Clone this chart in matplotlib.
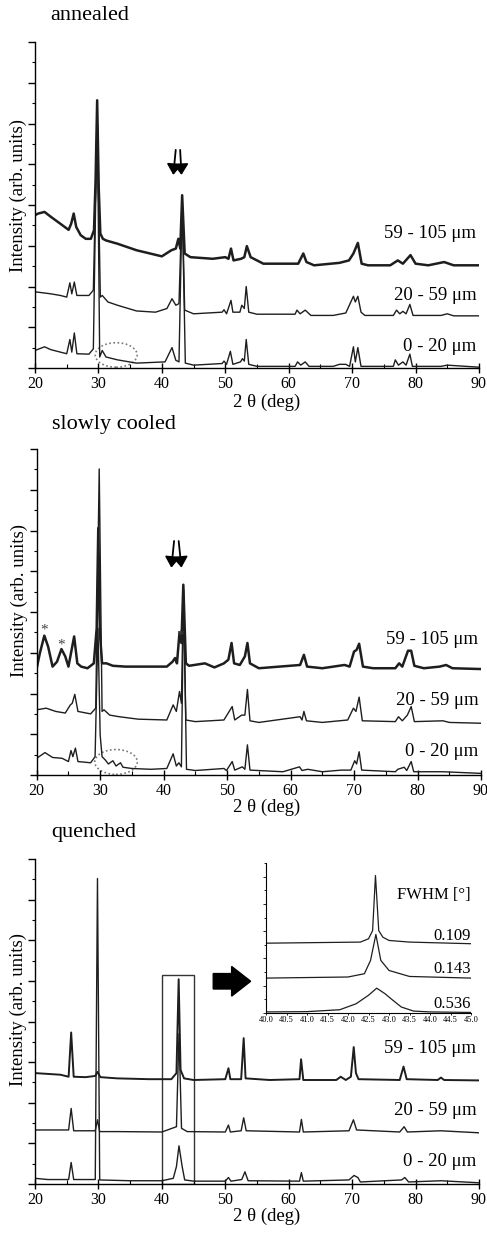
import matplotlib
matplotlib.use("Agg")
import matplotlib.pyplot as plt
from matplotlib.patches import Ellipse, Rectangle, FancyArrow
from matplotlib.ticker import MultipleLocator, NullFormatter, FormatStrFormatter

plt.rcParams['font.family'] = ['Liberation Serif', 'DejaVu Serif']

labels = ["59 - 105 \u03bcm", "20 - 59 \u03bcm", "0 - 20 \u03bcm"]
titles = ["annealed", "slowly cooled", "quenched"]

# ---- annealed ----
ann_top_x = [20, 20.5, 21.5, 22.5, 24, 25.3, 25.7, 26.1, 26.5, 27.2, 28, 28.8, 29.3, 29.55, 29.8, 30.05, 30.3, 30.7,
             31.2, 33, 36, 40, 41.5, 42.2, 42.6, 42.9, 43.2, 43.6, 44.5, 48, 50, 50.5, 50.9, 51.3, 52.5, 53.0, 53.4,
             54, 56, 61.5, 62.3, 62.8, 64, 68, 69.5, 70.2, 70.9, 71.5, 72.5, 76, 77.2, 78, 79.2, 80, 82, 84.5, 86, 90]
ann_top_y = [3.75, 3.79, 3.83, 3.71, 3.54, 3.39, 3.54, 3.79, 3.46, 3.26, 3.17, 3.17, 3.38, 4.60, 6.57, 4.40, 3.30,
             3.17, 3.13, 3.05, 2.89, 2.74, 2.89, 2.93, 3.17, 2.93, 4.24, 2.81, 2.72, 2.68, 2.72, 2.68, 2.93, 2.64, 2.68,
             2.72, 2.99, 2.72, 2.56, 2.56, 2.81, 2.60, 2.52, 2.58, 2.64, 2.81, 3.07, 2.56, 2.52, 2.52, 2.64, 2.56, 2.77,
             2.56, 2.52, 2.60, 2.52, 2.52]
ann_mid_x = [20, 22.5, 24, 25.0, 25.5, 25.8, 26.2, 26.6, 28.5, 29.2, 29.8, 30.3, 30.6, 31.5, 33, 36, 39, 40.8, 41.6,
             42.2, 42.7, 43.2, 43.6, 45, 49.5, 49.8, 50.2, 50.9, 51.2, 52.3, 52.6, 53.0, 53.3, 53.7, 55, 61, 61.3, 61.8,
             62.6, 63.5, 67, 69, 70.2, 70.5, 70.9, 71.4, 72, 76.5, 77, 77.5, 78, 78.5, 79.1, 79.6, 84, 85, 86, 90]
ann_mid_y = [1.87, 1.82, 1.78, 1.74, 2.09, 1.82, 2.11, 1.78, 1.78, 1.91, 6.16, 1.74, 1.78, 1.62, 1.54, 1.40, 1.37, 1.46,
             1.70, 1.54, 1.58, 4.20, 1.42, 1.33, 1.37, 1.43, 1.33, 1.66, 1.37, 1.37, 1.54, 1.46, 2.00, 1.37, 1.32, 1.32,
             1.42, 1.33, 1.42, 1.29, 1.29, 1.35, 1.76, 1.62, 1.76, 1.37, 1.29, 1.29, 1.42, 1.33, 1.39, 1.33, 1.56, 1.29,
             1.29, 1.33, 1.28, 1.28]
ann_bot_x = [20, 21.5, 22.5, 24, 25.0, 25.5, 25.8, 26.2, 26.6, 28.5, 29.2, 29.8, 30.2, 30.6, 31.2, 33, 36, 40.5, 41.6,
             42.2, 42.7, 43.2, 43.7, 45, 49.5, 49.8, 50.2, 50.8, 51.2, 52.4, 52.7, 53.0, 53.3, 53.7, 55, 61, 61.4, 61.9,
             62.6, 63.2, 67, 68, 69, 69.6, 70.2, 70.5, 70.9, 71.4, 76.5, 76.8, 77.3, 78, 78.5, 79.1, 79.5, 84, 85, 90]
ann_bot_y = [0.43, 0.52, 0.45, 0.39, 0.35, 0.70, 0.39, 0.86, 0.35, 0.34, 0.47, 6.49, 0.27, 0.43, 0.27, 0.20, 0.12, 0.15,
             0.50, 0.19, 0.15, 4.11, 0.12, 0.07, 0.11, 0.17, 0.09, 0.41, 0.09, 0.15, 0.23, 0.17, 0.70, 0.09, 0.04, 0.04,
             0.15, 0.07, 0.15, 0.04, 0.04, 0.09, 0.09, 0.04, 0.52, 0.15, 0.50, 0.04, 0.04, 0.20, 0.07, 0.15, 0.07, 0.34,
             0.04, 0.04, 0.07, 0.02]

# ---- slowly cooled ----
slo_top_x = [20, 20.5, 21.2, 21.8, 22.5, 23.2, 23.9, 24.5, 25.0, 25.5, 25.9, 26.4, 27, 28, 29, 29.45, 29.7, 29.95,
             30.3, 31, 32, 34, 38, 40.5, 41.4, 41.8, 42.1, 42.5, 42.8, 43.1, 43.5, 44, 46.5, 48, 49.5, 50.2, 50.7, 51.1,
             52, 52.8, 53.2, 53.6, 55, 61.5, 62.1, 62.6, 65, 68.5, 69.3, 70, 70.4, 70.8, 71.4, 73, 76.5, 77.1, 77.6,
             78.5, 79.0, 79.5, 81, 83.5, 84.5, 85.5, 90]
slo_top_y = [2.62, 2.99, 3.42, 3.15, 2.66, 2.78, 3.09, 2.91, 2.66, 3.07, 3.40, 2.74, 2.66, 2.62, 2.74, 3.60, 6.06, 3.50,
             2.74, 2.74, 2.68, 2.66, 2.66, 2.66, 2.78, 2.87, 2.74, 3.50, 3.24, 4.67, 2.74, 2.68, 2.74, 2.64, 2.74, 2.83,
             3.24, 2.74, 2.70, 2.91, 3.24, 2.74, 2.62, 2.70, 2.95, 2.66, 2.62, 2.70, 2.66, 3.03, 3.07, 3.22, 2.66, 2.62,
             2.62, 2.74, 2.66, 3.05, 3.05, 2.68, 2.62, 2.66, 2.70, 2.62, 2.60]
slo_mid_x = [20, 21.5, 23, 24.5, 25.3, 25.6, 26.0, 26.5, 28.5, 29.3, 29.85, 30.3, 30.6, 31.5, 33, 36, 40.5, 41.5, 42,
             42.5, 42.8, 43.1, 43.5, 45, 49.5, 50.8, 51.2, 52.3, 52.8, 53.2, 53.6, 55, 61.5, 61.8, 62.1, 62.5, 65, 69,
             69.9, 70.3, 70.8, 71.3, 76.5, 77, 77.6, 78.4, 79, 79.5, 84, 85, 90]
slo_mid_y = [1.60, 1.64, 1.56, 1.52, 1.72, 1.76, 1.98, 1.56, 1.50, 1.64, 7.51, 1.56, 1.60, 1.47, 1.43, 1.37, 1.35, 1.72,
             1.56, 2.05, 1.76, 4.42, 1.35, 1.31, 1.35, 1.68, 1.35, 1.47, 1.47, 2.10, 1.33, 1.29, 1.43, 1.35, 1.56, 1.33,
             1.29, 1.35, 1.64, 1.56, 1.91, 1.33, 1.31, 1.43, 1.33, 1.47, 1.68, 1.31, 1.33, 1.29, 1.27]
slo_bot_x = [20, 21.3, 22.5, 24, 25, 25.4, 25.7, 26.1, 26.5, 28.5, 29.2, 29.65, 30.0, 30.3, 30.8, 31.3, 32.0, 32.5, 33.2,
             33.6, 35, 38, 40.5, 41.5, 42, 42.4, 42.8, 43.15, 43.6, 45, 49.5, 49.9, 50.8, 51.2, 52.4, 52.8, 53.2, 53.6,
             58.8, 61.4, 61.8, 62.7, 65, 68, 69.5, 70.1, 70.4, 70.8, 71.2, 76.5, 76.9, 77.9, 78.3, 79.0, 79.4, 84, 90]
slo_bot_y = [0.41, 0.55, 0.43, 0.41, 0.33, 0.60, 0.45, 0.66, 0.33, 0.30, 0.45, 3.60, 0.98, 0.45, 0.37, 0.27, 0.35, 0.22,
             0.30, 0.19, 0.16, 0.14, 0.16, 0.52, 0.22, 0.30, 0.20, 4.55, 0.14, 0.11, 0.16, 0.11, 0.33, 0.12, 0.20, 0.14,
             0.74, 0.12, 0.08, 0.20, 0.11, 0.14, 0.08, 0.12, 0.12, 0.35, 0.27, 0.57, 0.12, 0.08, 0.14, 0.19, 0.11, 0.33,
             0.08, 0.08, 0.04]

# ---- quenched ----
que_top_x = [20, 22, 24, 25.3, 25.7, 26.1, 28, 29.5, 29.85, 30.3, 33, 38, 41.5, 42.3, 42.65, 42.95, 43.5, 45, 50, 50.5,
             50.8, 52.5, 52.9, 53.2, 57, 61.7, 61.95, 62.3, 67.5, 68.2, 69, 69.8, 70.25, 70.6, 71, 77.5, 78.1, 78.6,
             83.5, 84, 84.5, 90]
que_top_y = [2.73, 2.71, 2.69, 2.64, 3.73, 2.64, 2.63, 2.66, 2.76, 2.63, 2.60, 2.58, 2.58, 2.73, 5.04, 2.81, 2.60, 2.56,
             2.58, 2.85, 2.58, 2.58, 3.59, 2.60, 2.56, 2.58, 3.07, 2.56, 2.56, 2.64, 2.56, 2.64, 3.37, 2.73, 2.58, 2.56,
             2.89, 2.58, 2.56, 2.62, 2.56, 2.55]
que_mid_x = [20, 25.3, 25.7, 26.1, 29.5, 29.85, 30.2, 33, 40, 42.3, 42.7, 43.1, 44, 50, 50.5, 50.8, 52.5, 52.9, 53.3,
             61.7, 62.0, 62.3, 69.5, 70.2, 70.7, 77.5, 78.2, 78.7, 84, 90]
que_mid_y = [1.33, 1.33, 1.86, 1.31, 1.31, 1.58, 1.29, 1.29, 1.28, 1.41, 3.70, 1.37, 1.29, 1.28, 1.45, 1.28, 1.31, 1.63,
             1.31, 1.28, 1.59, 1.28, 1.31, 1.58, 1.33, 1.28, 1.41, 1.28, 1.31, 1.26]
que_bot_x = [20, 22, 25.3, 25.7, 26.1, 29.5, 29.85, 30.2, 35, 40, 41.8, 42.3, 42.7, 43.2, 43.6, 45, 50, 50.5, 50.9,
             52.6, 53.1, 53.6, 61.7, 62.0, 62.3, 69.5, 70.3, 70.9, 71.3, 77.8, 78.3, 78.9, 84, 90]
que_bot_y = [0.14, 0.11, 0.11, 0.53, 0.11, 0.11, 7.52, 0.10, 0.08, 0.08, 0.14, 0.43, 0.94, 0.43, 0.10, 0.07, 0.07, 0.16,
             0.07, 0.11, 0.30, 0.08, 0.07, 0.28, 0.07, 0.10, 0.21, 0.16, 0.05, 0.10, 0.16, 0.05, 0.08, 0.03]

# ---- quenched inset (40-45 deg) ----
fwhm_labels = ["0.109", "0.143", "0.536"]
ins_top_x = [40, 42.3, 42.5, 42.6, 42.67, 42.75, 42.85, 43.0, 43.5, 45]
ins_top_y = [2.56, 2.60, 2.72, 3.02, 5.04, 3.02, 2.78, 2.66, 2.60, 2.54]
ins_mid_x = [40, 42.0, 42.4, 42.55, 42.68, 42.8, 43.0, 43.5, 45]
ins_mid_y = [1.28, 1.32, 1.44, 1.93, 2.88, 1.93, 1.56, 1.34, 1.28]
ins_bot_x = [40, 41.0, 41.8, 42.2, 42.5, 42.7, 42.9, 43.1, 43.3, 43.6, 44.0, 45]
ins_bot_y = [0.04, 0.05, 0.12, 0.34, 0.65, 0.91, 0.71, 0.46, 0.22, 0.07, 0.04, 0.02]

LC = '#1e1e1e'
W, H = 487, 1235

fig = plt.figure(figsize=(W / 100, H / 100), dpi=100)


def px_axes(left, top, right, bottom):
    return fig.add_axes([left / W, 1 - bottom / H, (right - left) / W, (bottom - top) / H])


def style(ax, label_y, xlab_x, xlab_y, ylab_y):
    ax.set_xlim(20, 90)
    ax.set_ylim(0, 8)
    for s in ['top', 'right']:
        ax.spines[s].set_visible(False)
    for s in ['left', 'bottom']:
        ax.spines[s].set_linewidth(1.0)
    ax.xaxis.set_major_locator(MultipleLocator(10))
    ax.xaxis.set_minor_locator(MultipleLocator(5))
    ax.yaxis.set_major_locator(MultipleLocator(1))
    ax.yaxis.set_minor_locator(MultipleLocator(0.5))
    ax.yaxis.set_major_formatter(NullFormatter())
    ax.tick_params(axis='x', which='major', direction='inout', length=7, width=1, labelsize=11.5, pad=2)
    ax.tick_params(axis='x', which='minor', direction='in', length=3, width=0.8)
    ax.tick_params(axis='y', which='major', direction='out', length=5, width=1)
    ax.tick_params(axis='y', which='minor', direction='out', length=2.5, width=0.8)
    ax.set_xlabel("2 \u03b8 (deg)", fontsize=13.5, va='center')
    ax.xaxis.set_label_coords(xlab_x, xlab_y)
    ax.set_ylabel("Intensity (arb. units)", fontsize=13.5, va='center')
    ax.yaxis.set_label_coords(-0.038, ylab_y)
    for lab, y in zip(labels, label_y):
        ax.text(89.6, y, lab, ha='right', va='center', fontsize=13.5)


ARW = dict(arrowstyle='-|>,head_length=0.65,head_width=0.45', color='k', lw=1.3, mutation_scale=10)

# annealed
ax1 = px_axes(35, 42, 479, 368)
ax1.plot(ann_bot_x, ann_bot_y, color=LC, lw=1.0)
ax1.plot(ann_mid_x, ann_mid_y, color=LC, lw=1.0)
ax1.plot(ann_top_x, ann_top_y, color=LC, lw=1.8)
style(ax1, [3.30, 1.78, 0.52], (267 - 35) / 444, -34 / 326, 0.53)
ax1.add_patch(Ellipse((32.8, 0.32), 6.6, 0.6, fill=False, ls=(0, (1, 1.5)), ec='#777777', lw=1.2))
ax1.annotate('', xy=(41.76, 4.67), xytext=(42.23, 5.42), arrowprops=ARW)
ax1.annotate('', xy=(43.12, 4.67), xytext=(42.86, 5.42), arrowprops=ARW)
fig.text(50 / W, 1 - 15 / H, titles[0], fontsize=16, va='center', ha='left')

# slowly cooled
ax2 = px_axes(36.7, 449, 481, 775)
ax2.plot(slo_bot_x, slo_bot_y, color=LC, lw=1.0)
ax2.plot(slo_mid_x, slo_mid_y, color=LC, lw=1.0)
ax2.plot(slo_top_x, slo_top_y, color=LC, lw=1.8)
style(ax2, [3.33, 1.82, 0.57], (267 - 36.7) / 444.3, -32 / 326, 0.534)
ax2.add_patch(Ellipse((32.5, 0.32), 6.7, 0.61, fill=False, ls=(0, (1, 1.5)), ec='#777777', lw=1.2))
ax2.annotate('', xy=(41.17, 5.02), xytext=(41.69, 5.81), arrowprops=ARW)
ax2.annotate('', xy=(42.85, 5.02), xytext=(42.32, 5.81), arrowprops=ARW)
for sx, sy in [(21.2, 3.55), (23.9, 3.18), (42.6, 3.40)]:
    ax2.text(sx, sy, '*', ha='center', va='center', fontsize=11, color='#444444')
fig.text(52 / W, 1 - 425 / H, titles[1], fontsize=16, va='center', ha='left')

# quenched
ax3 = px_axes(35, 859, 479, 1184)
ax3.plot(que_bot_x, que_bot_y, color=LC, lw=1.0)
ax3.plot(que_mid_x, que_mid_y, color=LC, lw=1.0)
ax3.plot(que_top_x, que_top_y, color=LC, lw=1.4)
style(ax3, [3.33, 1.80, 0.55], (267 - 35) / 444, -32 / 325, 0.538)
ax3.add_patch(Rectangle((40, 0), 5.07, 5.15, fill=False, ec='#333333', lw=1.0))
ax3.add_patch(FancyArrow(48.1, 4.99, 5.9, 0, width=0.38, head_width=0.73, head_length=3.0,
                         length_includes_head=True, color='k'))
fig.text(51 / W, 1 - 833 / H, titles[2], fontsize=16, va='center', ha='left')

# inset
ins = px_axes(266, 863, 471, 1013)
ins.plot(ins_top_x, ins_top_y, color=LC, lw=0.9)
ins.plot(ins_mid_x, ins_mid_y, color=LC, lw=0.9)
ins.plot(ins_bot_x, ins_bot_y, color=LC, lw=0.9)
ins.set_xlim(40, 45)
ins.set_ylim(0, 5.5)
for s in ['top', 'right']:
    ins.spines[s].set_visible(False)
for s in ['left', 'bottom']:
    ins.spines[s].set_linewidth(0.8)
ins.xaxis.set_major_locator(MultipleLocator(0.5))
ins.xaxis.set_major_formatter(FormatStrFormatter('%.1f'))
ins.yaxis.set_major_locator(MultipleLocator(1))
ins.yaxis.set_minor_locator(MultipleLocator(0.5))
ins.yaxis.set_major_formatter(NullFormatter())
ins.tick_params(axis='x', direction='out', length=1.5, width=0.6, labelsize=6, pad=1)
ins.tick_params(axis='y', which='major', direction='out', length=2.5, width=0.6)
ins.tick_params(axis='y', which='minor', direction='out', length=1.2, width=0.6)
ins.text(45, 4.34, "FWHM [\u00b0]", ha='right', va='center', fontsize=12)
for lab, y in zip(fwhm_labels, [2.84, 1.60, 0.34]):
    ins.text(45, y, lab, ha='right', va='center', fontsize=12)

fig.savefig("out.png", dpi=100)
